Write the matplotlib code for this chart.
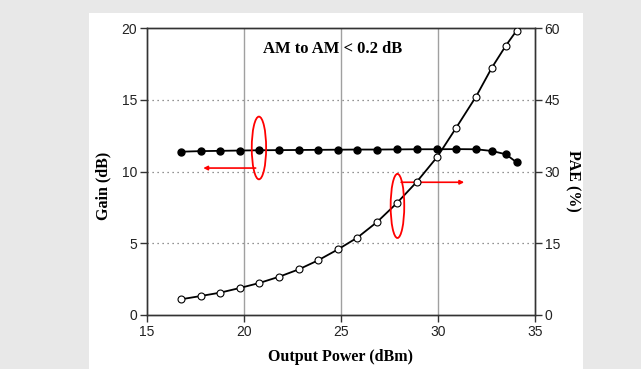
import matplotlib
matplotlib.use("Agg")
import matplotlib.pyplot as plt
from matplotlib.patches import Ellipse, Rectangle

# output power (dBm)
pout = [16.75, 17.77, 18.77, 19.78, 20.79, 21.82, 22.83, 23.82, 24.85, 25.84,
        26.86, 27.87, 28.9, 29.97, 30.93, 31.96, 32.78, 33.5, 34.05]
gain = [11.38, 11.42, 11.44, 11.46, 11.48, 11.49, 11.5, 11.51, 11.52, 11.53,
        11.53, 11.54, 11.55, 11.55, 11.56, 11.55, 11.43, 11.2, 10.64]
pae = [3.28, 3.97, 4.67, 5.64, 6.69, 8.01, 9.55, 11.43, 13.73, 16.17,
       19.44, 23.35, 27.81, 33.1, 39.1, 45.65, 51.73, 56.33, 59.45]

W, H = 641, 369
fig = plt.figure(figsize=(W / 100, H / 100), dpi=100, facecolor="#e8e8e8")
fig.patches.append(Rectangle((89 / W, 0), (583 - 89) / W, 1 - 13 / H,
                             transform=fig.transFigure, facecolor="white",
                             edgecolor="none", zorder=-10))

ax = fig.add_axes([147 / W, 1 - 315 / H, (535 - 147) / W, (315 - 28) / H])
ax2 = ax.twinx()

tickc = "#222222"
spc = "#333333"
for a in (ax, ax2):
    for s in a.spines.values():
        s.set_color(spc)
        s.set_linewidth(1.0)
    a.tick_params(length=5, width=1, color=spc, labelcolor=tickc,
                  labelsize=10, pad=2)

ax.set_xlim(15, 35)
ax.set_ylim(0, 20)
ax.set_xticks([15, 20, 25, 30, 35])
ax.set_yticks([0, 5, 10, 15, 20])
ax2.set_ylim(0, 60)
ax2.set_yticks([0, 15, 30, 45, 60])
for lab in ax.get_xticklabels() + ax.get_yticklabels() + ax2.get_yticklabels():
    lab.set_fontfamily("Liberation Sans")

for x in [20, 25, 30]:
    ax.axvline(x, color="#a0a0a0", lw=1.0, zorder=1)
for y in [5, 10, 15]:
    ax.axhline(y, color="#707070", lw=0.9, ls=(0, (1, 3)), zorder=1)

ax.plot(pout, gain, "-o", color="black", lw=1.3, ms=5,
        mfc="black", mec="black", zorder=3)
ax2.plot(pout, pae, "-o", color="black", lw=1.3, ms=5,
         mfc="white", mec="black", mew=0.8, zorder=3)
ax2.set_zorder(ax.get_zorder() + 1)
ax2.patch.set_visible(False)

# red marks
ax.add_patch(Ellipse((20.77, 11.64), 0.74, 4.37, fill=False,
                     edgecolor="red", lw=1.3, zorder=4))
ax.annotate("", xy=(17.9, 10.24), xytext=(20.6, 10.24),
            arrowprops=dict(arrowstyle="-|>", color="red", lw=1.2,
                            mutation_scale=6, shrinkA=0, shrinkB=0))
ax2.add_patch(Ellipse((27.91, 22.8), 0.70, 13.4, fill=False,
                      edgecolor="red", lw=1.3, zorder=4))
ax.annotate("", xy=(31.35, 9.25), xytext=(28.1, 9.25),
            arrowprops=dict(arrowstyle="-|>", color="red", lw=1.2,
                            mutation_scale=6, shrinkA=0, shrinkB=0))

ax2.text(24.56, 55.7, "AM to AM < 0.2 dB", ha="center", va="center",
         fontsize=12, fontweight="bold", family="Liberation Serif", zorder=5)

fig.text(103 / W, 1 - 186 / H, "Gain (dB)", rotation=90, ha="center",
         va="center", fontsize=11.5, fontweight="bold",
         family="Liberation Serif")
fig.text(573 / W, 1 - 181 / H, "PAE (%)", rotation=270, ha="center",
         va="center", fontsize=11.5, fontweight="bold",
         family="Liberation Serif")
fig.text(340 / W, 1 - 357 / H, "Output Power (dBm)", ha="center",
         va="center", fontsize=11.5, fontweight="bold",
         family="Liberation Serif")

fig.savefig("out.png", dpi=100, facecolor=fig.get_facecolor())
